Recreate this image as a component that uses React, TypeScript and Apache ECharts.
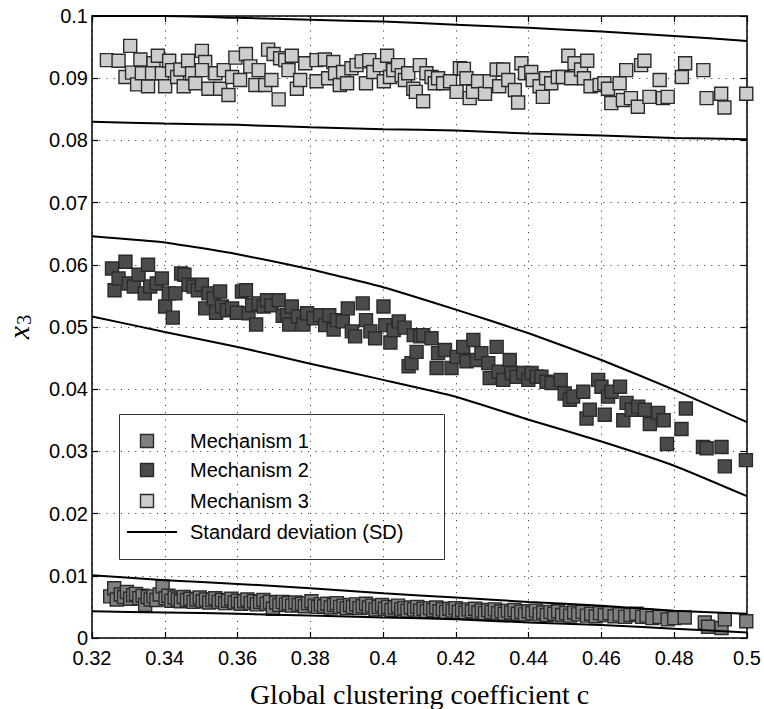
import React, { useEffect, useRef } from "react";
import * as echarts from "echarts";

// ---------- data ----------
const sdX = [0.32, 0.34, 0.36, 0.38, 0.4, 0.42, 0.44, 0.46, 0.48, 0.5];
const m1Upper = [0.0101, 0.0093, 0.0087, 0.008, 0.0072, 0.0065, 0.0058, 0.0052, 0.0044, 0.0039];
const m1Lower = [0.0043, 0.0041, 0.0039, 0.0036, 0.0033, 0.003, 0.0025, 0.0021, 0.0015, 0.0009];
const m2Upper = [0.0646, 0.0636, 0.0617, 0.0593, 0.0564, 0.0528, 0.049, 0.0447, 0.0399, 0.0347];
const m2Lower = [0.0517, 0.0492, 0.0468, 0.0441, 0.0415, 0.0388, 0.0351, 0.0316, 0.0277, 0.0228];
const m3Upper = [0.1, 0.1, 0.0997, 0.0994, 0.0991, 0.0986, 0.0981, 0.0975, 0.0968, 0.096];
const m3Lower = [0.083, 0.0827, 0.0825, 0.0821, 0.0818, 0.0816, 0.0811, 0.0808, 0.0804, 0.0802];

const m1Points = [
  [0.325, 0.0067], [0.3261, 0.008], [0.3268, 0.0062], [0.3279, 0.007], [0.3288, 0.0066], [0.3296, 0.0074],
  [0.3305, 0.0063], [0.3313, 0.0069], [0.3321, 0.0071], [0.333, 0.0064], [0.3339, 0.0068], [0.3346, 0.0053],
  [0.3353, 0.0066], [0.3361, 0.0062], [0.3369, 0.0067], [0.3377, 0.0061], [0.3386, 0.007], [0.3394, 0.0083],
  [0.3402, 0.0064], [0.341, 0.0068], [0.3418, 0.006], [0.3427, 0.0065], [0.3436, 0.0062], [0.3444, 0.0059],
  [0.3452, 0.0066], [0.3461, 0.0061], [0.347, 0.0063], [0.3479, 0.0058], [0.3487, 0.0062], [0.3496, 0.0065],
  [0.3504, 0.0059], [0.3513, 0.0062], [0.3522, 0.0057], [0.3531, 0.0061], [0.3539, 0.0064], [0.3548, 0.0058],
  [0.3557, 0.0061], [0.3566, 0.0056], [0.3574, 0.006], [0.3583, 0.0063], [0.3592, 0.0057], [0.3601, 0.006],
  [0.3609, 0.0055], [0.3618, 0.0059], [0.3627, 0.0062], [0.3636, 0.0056], [0.3645, 0.0059], [0.3653, 0.0054],
  [0.3662, 0.0058], [0.3671, 0.0061], [0.368, 0.0055], [0.3689, 0.0058], [0.3697, 0.0047], [0.3706, 0.0057],
  [0.3715, 0.0053], [0.3724, 0.0058], [0.3733, 0.0054], [0.3741, 0.0056], [0.375, 0.0052], [0.3759, 0.0057],
  [0.3768, 0.0053], [0.3777, 0.0055], [0.3785, 0.0051], [0.3794, 0.0056], [0.3803, 0.0059], [0.3812, 0.0052],
  [0.3821, 0.005], [0.3829, 0.0054], [0.3838, 0.0051], [0.3847, 0.0055], [0.3856, 0.0049], [0.3865, 0.0053],
  [0.3873, 0.0056], [0.3882, 0.005], [0.3891, 0.0052], [0.39, 0.0048], [0.3909, 0.0053], [0.3917, 0.005],
  [0.3926, 0.0054], [0.3935, 0.0048], [0.3944, 0.0051], [0.3953, 0.0055], [0.3961, 0.0049], [0.397, 0.0052],
  [0.3979, 0.0046], [0.3988, 0.005], [0.3997, 0.0053], [0.4005, 0.0047], [0.4014, 0.005], [0.4023, 0.0045],
  [0.4032, 0.0049], [0.4041, 0.0052], [0.405, 0.0046], [0.4058, 0.0048], [0.4067, 0.0044], [0.4076, 0.0049],
  [0.4085, 0.0046], [0.4094, 0.005], [0.4102, 0.0044], [0.4111, 0.0047], [0.412, 0.0043], [0.4129, 0.0048],
  [0.4138, 0.0045], [0.4146, 0.0049], [0.4155, 0.0043], [0.4164, 0.0046], [0.4173, 0.0042], [0.4182, 0.0047],
  [0.4191, 0.0044], [0.4199, 0.0048], [0.4208, 0.0042], [0.4217, 0.0045], [0.4226, 0.0041], [0.4235, 0.0046],
  [0.4244, 0.0043], [0.4253, 0.0047], [0.4262, 0.0041], [0.4271, 0.0044], [0.428, 0.004], [0.4289, 0.0045],
  [0.4298, 0.0042], [0.4307, 0.0046], [0.4316, 0.004], [0.4325, 0.0043], [0.4334, 0.0039], [0.4343, 0.0044],
  [0.4352, 0.0041], [0.4361, 0.0045], [0.437, 0.0039], [0.438, 0.0042], [0.439, 0.0038], [0.44, 0.0043],
  [0.441, 0.004], [0.442, 0.0044], [0.443, 0.0038], [0.444, 0.0041], [0.445, 0.0037], [0.446, 0.0042],
  [0.447, 0.0039], [0.4481, 0.0043], [0.4492, 0.0037], [0.4503, 0.004], [0.4514, 0.0036], [0.4525, 0.0041],
  [0.4536, 0.0038], [0.4548, 0.0042], [0.456, 0.0036], [0.4572, 0.0039], [0.4584, 0.0035], [0.4596, 0.004],
  [0.4609, 0.0037], [0.4622, 0.004], [0.4636, 0.0035], [0.465, 0.0038], [0.4665, 0.0034], [0.468, 0.0037],
  [0.4696, 0.0039], [0.4712, 0.0034], [0.4724, 0.0036], [0.474, 0.0032], [0.476, 0.0034], [0.4782, 0.003],
  [0.48, 0.0032], [0.4829, 0.0033], [0.4884, 0.0025], [0.4893, 0.0018], [0.493, 0.0016], [0.4939, 0.003],
  [0.4998, 0.0027],
];

const m2Points = [
  [0.3255, 0.0594], [0.3262, 0.0559], [0.3273, 0.0578], [0.3292, 0.0605], [0.3301, 0.057], [0.3315, 0.0565],
  [0.3328, 0.0584], [0.3345, 0.0554], [0.3354, 0.06], [0.336, 0.0565], [0.3378, 0.057], [0.3392, 0.0578],
  [0.3401, 0.0533], [0.3411, 0.0554], [0.3422, 0.0515], [0.3429, 0.0554], [0.3445, 0.0586], [0.3454, 0.0584],
  [0.3465, 0.0568], [0.3479, 0.0565], [0.3491, 0.0559], [0.3502, 0.0568], [0.3511, 0.053], [0.352, 0.0554],
  [0.3534, 0.0546], [0.3541, 0.0523], [0.3552, 0.0557], [0.3557, 0.0533], [0.3571, 0.0527], [0.3585, 0.053],
  [0.3598, 0.0523], [0.3612, 0.0557], [0.3623, 0.0559], [0.363, 0.0522], [0.364, 0.0535], [0.3651, 0.0504],
  [0.3658, 0.0538], [0.3672, 0.0533], [0.3681, 0.0543], [0.3693, 0.0535], [0.3713, 0.0543], [0.3724, 0.0518],
  [0.3736, 0.0519], [0.3742, 0.0504], [0.3749, 0.0533], [0.3766, 0.0517], [0.3781, 0.0504], [0.3791, 0.0522],
  [0.3809, 0.0514], [0.3827, 0.0519], [0.3841, 0.0503], [0.3852, 0.0519], [0.3864, 0.0496], [0.3873, 0.0511],
  [0.3889, 0.0509], [0.3903, 0.053], [0.3914, 0.0493], [0.3923, 0.0485], [0.3944, 0.0538], [0.3953, 0.0511],
  [0.3965, 0.0493], [0.3978, 0.0482], [0.4001, 0.0533], [0.4006, 0.0503], [0.402, 0.0475], [0.4029, 0.0495],
  [0.4043, 0.0509], [0.4059, 0.0499], [0.407, 0.0437], [0.4078, 0.0442], [0.4084, 0.0487], [0.4092, 0.046],
  [0.4102, 0.0485], [0.411, 0.0487], [0.4133, 0.0482], [0.4147, 0.0434], [0.4151, 0.0458], [0.417, 0.0463],
  [0.4188, 0.0434], [0.4202, 0.0452], [0.422, 0.0468], [0.4229, 0.0445], [0.4248, 0.0479], [0.4257, 0.0447],
  [0.427, 0.0458], [0.4289, 0.0442], [0.4293, 0.0418], [0.4312, 0.0468], [0.4317, 0.0428], [0.433, 0.0415],
  [0.4348, 0.0447], [0.4353, 0.0426], [0.4367, 0.042], [0.4385, 0.0426], [0.4399, 0.0415], [0.4408, 0.0426],
  [0.4422, 0.042], [0.4435, 0.042], [0.4449, 0.0412], [0.4463, 0.041], [0.4488, 0.0415], [0.4499, 0.0393],
  [0.4513, 0.0383], [0.4522, 0.0388], [0.455, 0.0396], [0.4559, 0.0353], [0.4568, 0.0367], [0.4591, 0.0415],
  [0.46, 0.0404], [0.4609, 0.0359], [0.4618, 0.0388], [0.4628, 0.0396], [0.4651, 0.0404], [0.466, 0.035],
  [0.4669, 0.0378], [0.4683, 0.0367], [0.4701, 0.0372], [0.4719, 0.0367], [0.4733, 0.0344], [0.4756, 0.0362],
  [0.4771, 0.035], [0.478, 0.0312], [0.482, 0.0336], [0.4832, 0.0369], [0.4879, 0.0307], [0.4889, 0.0305],
  [0.493, 0.0307], [0.4939, 0.0276], [0.4997, 0.0286],
];

const m3Points = [
  [0.3241, 0.0929], [0.3273, 0.0928], [0.3305, 0.0952], [0.3333, 0.093], [0.3292, 0.0902], [0.331, 0.0909],
  [0.3324, 0.089], [0.3354, 0.0887], [0.3337, 0.0908], [0.3369, 0.0924], [0.3381, 0.0936], [0.3365, 0.0908],
  [0.3392, 0.0908], [0.3401, 0.0887], [0.3412, 0.0928], [0.342, 0.0913], [0.3434, 0.0902], [0.3443, 0.0914],
  [0.3452, 0.0887], [0.3464, 0.0928], [0.3475, 0.0908], [0.3484, 0.0892], [0.3502, 0.0944], [0.3511, 0.0926],
  [0.3502, 0.0913], [0.352, 0.0883], [0.3539, 0.0908], [0.3552, 0.0883], [0.3562, 0.0913], [0.3575, 0.0873],
  [0.3585, 0.0902], [0.3594, 0.0933], [0.3607, 0.0897], [0.3623, 0.0939], [0.3635, 0.0919], [0.3649, 0.0889],
  [0.3658, 0.0913], [0.3676, 0.0889], [0.3684, 0.0946], [0.3693, 0.0897], [0.3699, 0.0939], [0.3713, 0.0866],
  [0.3717, 0.0932], [0.3731, 0.0929], [0.374, 0.0913], [0.3749, 0.0936], [0.3763, 0.0883], [0.3772, 0.0897],
  [0.3786, 0.0924], [0.3817, 0.0929], [0.384, 0.093], [0.3817, 0.0895], [0.3849, 0.09], [0.3863, 0.0926],
  [0.3868, 0.0908], [0.3881, 0.0889], [0.389, 0.091], [0.3901, 0.0892], [0.3913, 0.0916], [0.3927, 0.0921],
  [0.3941, 0.0927], [0.3953, 0.0892], [0.3962, 0.0929], [0.3973, 0.091], [0.3991, 0.0921], [0.4002, 0.0895],
  [0.4011, 0.0936], [0.4019, 0.0902], [0.4028, 0.0913], [0.4041, 0.0921], [0.4051, 0.0905], [0.406, 0.0897],
  [0.4069, 0.0908], [0.4083, 0.0883], [0.409, 0.0878], [0.4101, 0.0921], [0.411, 0.0863], [0.4119, 0.0908],
  [0.4133, 0.0902], [0.4142, 0.0892], [0.4151, 0.09], [0.4165, 0.0892], [0.4184, 0.0895], [0.4202, 0.0878],
  [0.4211, 0.0916], [0.4222, 0.0915], [0.4229, 0.09], [0.4238, 0.0868], [0.4247, 0.0878], [0.4261, 0.0895],
  [0.428, 0.0875], [0.4293, 0.0895], [0.4312, 0.0914], [0.4319, 0.0887], [0.433, 0.0914], [0.4344, 0.0897],
  [0.4362, 0.0881], [0.4371, 0.0861], [0.438, 0.0924], [0.439, 0.0908], [0.4407, 0.091], [0.4411, 0.0897],
  [0.443, 0.0887], [0.4439, 0.087], [0.4448, 0.09], [0.4462, 0.0892], [0.448, 0.0902], [0.4494, 0.0902],
  [0.4509, 0.0936], [0.4526, 0.0924], [0.4517, 0.09], [0.4544, 0.0914], [0.4552, 0.09], [0.4561, 0.0928],
  [0.457, 0.0887], [0.4595, 0.0889], [0.4608, 0.0892], [0.4618, 0.0883], [0.4627, 0.086], [0.465, 0.0892],
  [0.4659, 0.0865], [0.4668, 0.0913], [0.4681, 0.0868], [0.47, 0.0854], [0.4709, 0.0921], [0.4718, 0.0928],
  [0.4732, 0.087], [0.476, 0.0897], [0.4769, 0.0868], [0.4782, 0.087], [0.4821, 0.0902], [0.483, 0.0924],
  [0.488, 0.0913], [0.4889, 0.0868], [0.4929, 0.0875], [0.4938, 0.0853], [0.4998, 0.0875],
];

const legendLabels = ["Mechanism 1", "Mechanism 2", "Mechanism 3", "Standard deviation (SD)"];

// ---------- styles ----------
const COLORS = ["#808080", "#4b4b4b", "#cdcdcd"];
const EDGE = "#2b2b2b";
const SANS = "'Liberation Sans', Arial, Helvetica, sans-serif";
const SERIF = "'Liberation Serif', 'Times New Roman', serif";

const fmt = (v: number) => String(+Number(v).toFixed(2));

export default function App() {
  const ref = useRef<HTMLDivElement>(null);

  useEffect(() => {
    document.body.style.margin = "0";
    if (!ref.current) return;
    const chart = echarts.init(ref.current, undefined, { renderer: "svg" });

    const scatter = (pts: number[][], color: string, z: number) => ({
      type: "scatter",
      data: pts,
      symbol: "rect",
      symbolSize: 13,
      z,
      itemStyle: { color, borderColor: EDGE, borderWidth: 1.4, opacity: 1 },
      silent: true,
    });
    const sdLine = (vals: number[]) => ({
      type: "line",
      data: sdX.map((x, i) => [x, vals[i]]),
      showSymbol: false,
      smooth: 0.15,
      z: 10,
      lineStyle: { color: "#000", width: 2 },
      silent: true,
    });

    const splitLine = { show: true, lineStyle: { color: "#444", width: 1, type: [1.2, 6] as any } };

    const legendX = 119,
      legendY = 414,
      rowY = [441, 470, 501, 532];

    const graphics: any[] = [
      {
        type: "rect",
        shape: { x: legendX + 0.5, y: legendY + 0.5, width: 325, height: 145 },
        style: { fill: "none", stroke: "#333", lineWidth: 1 },
        z: 20,
      },
    ];
    for (let i = 0; i < 3; i++) {
      graphics.push({
        type: "rect",
        shape: { x: 147 - 6.5, y: rowY[i] - 6.5, width: 13, height: 13 },
        style: { fill: COLORS[i], stroke: EDGE, lineWidth: 1.4 },
        z: 20,
      });
    }
    graphics.push({
      type: "line",
      shape: { x1: 127, y1: rowY[3], x2: 177, y2: rowY[3] },
      style: { stroke: "#000", lineWidth: 2 },
      z: 20,
    });
    legendLabels.forEach((t, i) => {
      graphics.push({
        type: "text",
        x: 190,
        y: rowY[i],
        style: { text: t, font: `20px ${SANS}`, fill: "#000", verticalAlign: "middle" },
        z: 20,
      });
    });

    chart.setOption({
      animation: false,
      grid: { left: 92, right: 17, top: 16, bottom: 71, show: false, outerBoundsMode: "none", containLabel: false },
      xAxis: [
        {
          type: "value",
          min: 0.32,
          max: 0.5,
          interval: 0.02,
          position: "bottom",
          axisLine: { show: true, onZero: false, lineStyle: { color: "#000", width: 1.5 } },
          axisTick: { show: true, inside: true, length: 6, lineStyle: { color: "#000", width: 1.2 } },
          axisLabel: { color: "#000", fontFamily: SANS, fontSize: 20, margin: 10, formatter: fmt },
          splitLine,
          name: "Global clustering coefficient c",
          nameLocation: "middle",
          nameGap: 42,
          nameTextStyle: { color: "#000", fontFamily: SERIF, fontSize: 28 },
        },
        {
          type: "value",
          min: 0.32,
          max: 0.5,
          interval: 0.02,
          position: "top",
          axisLine: { show: true, onZero: false, lineStyle: { color: "#000", width: 1.5 } },
          axisTick: { show: true, inside: true, length: 6, lineStyle: { color: "#000", width: 1.2 } },
          axisLabel: { show: false },
          splitLine: { show: false },
        },
      ],
      yAxis: [
        {
          type: "value",
          min: 0,
          max: 0.1,
          interval: 0.01,
          position: "left",
          axisLine: { show: true, onZero: false, lineStyle: { color: "#000", width: 1.5 } },
          axisTick: { show: true, inside: true, length: 6, lineStyle: { color: "#000", width: 1.2 } },
          axisLabel: { color: "#000", fontFamily: SANS, fontSize: 20, margin: 4, formatter: fmt },
          splitLine,
          name: "{x|x}{s|3}",
          nameLocation: "middle",
          nameRotate: 90,
          nameGap: 59,
          nameTextStyle: {
            color: "#000",
            rich: {
              x: { fontFamily: SERIF, fontStyle: "italic", fontSize: 30, lineHeight: 30, verticalAlign: "top", color: "#000" },
              s: { fontFamily: SERIF, fontSize: 20, lineHeight: 20, padding: [11, 0, 0, 1], verticalAlign: "top", color: "#000" },
            },
          },
        },
        {
          type: "value",
          min: 0,
          max: 0.1,
          interval: 0.01,
          position: "right",
          axisLine: { show: true, onZero: false, lineStyle: { color: "#000", width: 1.5 } },
          axisTick: { show: true, inside: true, length: 6, lineStyle: { color: "#000", width: 1.2 } },
          axisLabel: { show: false },
          splitLine: { show: false },
        },
      ],
      series: [
        scatter(m1Points, COLORS[0], 3),
        scatter(m2Points, COLORS[1], 3),
        scatter(m3Points, COLORS[2], 3),
        sdLine(m1Upper),
        sdLine(m1Lower),
        sdLine(m2Upper),
        sdLine(m2Lower),
        sdLine(m3Upper),
        sdLine(m3Lower),
      ],
      graphic: graphics,
    });

    return () => chart.dispose();
  }, []);

  return <div ref={ref} style={{ width: 764, height: 709 }} />;
}
